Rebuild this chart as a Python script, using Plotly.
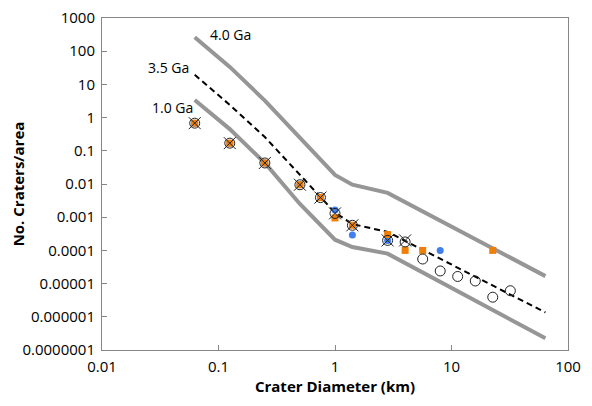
import math
import plotly.graph_objects as go

# Isochron curves (diameter km, cumulative craters/area)
iso_d = [0.0625, 0.125, 0.25, 0.5, 1.0, 1.41, 2.83, 64]
iso_40 = [265, 33.6, 3.25, 0.248, 0.0187, 0.0095, 0.0054, 1.68e-5]
iso_35 = [19.5, 2.4, 0.26, 0.019, 0.00137, 0.00062, 0.00036, 1.35e-6]
iso_10 = [3.4, 0.45, 0.043, 0.0025, 0.00021, 0.000126, 0.00008, 2.25e-7]

# Measured crater counts
open_d = [0.0625, 0.125, 0.25, 0.5, 0.75, 1.0, 1.41, 2.83, 4.0, 5.66, 8.0, 11.3, 16.0, 22.6, 32.0]
open_n = [0.68, 0.17, 0.043, 0.0095, 0.0039, 0.0013, 0.00057, 0.0002, 0.00018,
          5.5e-5, 2.4e-5, 1.64e-5, 1.2e-5, 3.9e-6, 6.1e-6]

x_d = [0.0625, 0.125, 0.25, 0.5, 0.75, 1.0, 1.41, 2.83, 4.0]
x_n = [0.68, 0.17, 0.043, 0.0095, 0.0039, 0.0013, 0.00057, 0.0002, 0.0002]

sq_d = [0.0625, 0.125, 0.25, 0.5, 0.75, 1.0, 1.41, 2.83, 4.0, 5.66, 22.6]
sq_n = [0.68, 0.17, 0.043, 0.0095, 0.0039, 0.00095, 0.00057, 0.0003, 0.0001, 0.0001, 0.0001]

bl_d = [0.0625, 0.125, 0.25, 0.5, 0.75, 1.0, 1.41, 2.83, 8.0]
bl_n = [0.68, 0.17, 0.043, 0.0095, 0.0039, 0.00165, 0.00029, 0.0002, 0.0001]

x_ticks = [0.01, 0.1, 1, 10, 100]
x_labels = ["0.01", "0.1", "1", "10", "100"]
y_ticks = [1000, 100, 10, 1, 0.1, 0.01, 0.001, 0.0001, 0.00001, 0.000001, 0.0000001]
y_labels = ["1000", "100", "10", "1", "0.1", "0.01", "0.001", "0.0001",
            "0.00001", "0.000001", "0.0000001"]

iso_labels = ["4.0 Ga", "3.5 Ga", "1.0 Ga"]

FONT = "Open Sans"
GRAY = "#969696"

fig = go.Figure()
fig.add_trace(go.Scatter(x=iso_d, y=iso_40, mode="lines",
                         line=dict(color=GRAY, width=4), name="4.0 Ga"))
fig.add_trace(go.Scatter(x=iso_d, y=iso_10, mode="lines",
                         line=dict(color=GRAY, width=4), name="1.0 Ga"))
fig.add_trace(go.Scatter(x=iso_d, y=iso_35, mode="lines",
                         line=dict(color="black", width=2, dash="6px,4px"), name="3.5 Ga"))
fig.add_trace(go.Scatter(x=bl_d, y=bl_n, mode="markers",
                         marker=dict(symbol="circle", size=7, color="#3f7fef", line=dict(width=0))))
fig.add_trace(go.Scatter(x=sq_d, y=sq_n, mode="markers",
                         marker=dict(symbol="square", size=7, color="#f07f0a", line=dict(width=0))))
fig.add_trace(go.Scatter(x=open_d, y=open_n, mode="markers",
                         marker=dict(symbol="circle-open", size=10, color="#222222",
                                     line=dict(width=1))))
fig.add_trace(go.Scatter(x=x_d, y=x_n, mode="markers",
                         marker=dict(symbol="x-thin", size=12, color="#222222",
                                     line=dict(width=1, color="#222222"))))

# isochron labels (log axes -> annotation coordinates in log10 units)
lab_font = dict(family=FONT, size=14, color="black")
fig.add_annotation(x=math.log10(iso_d[0]), y=math.log10(iso_40[0]), text=iso_labels[0],
                   showarrow=False, xanchor="left", yanchor="middle", xshift=13, yshift=3,
                   font=lab_font)
fig.add_annotation(x=math.log10(iso_d[0]), y=math.log10(iso_35[0]), text=iso_labels[1],
                   showarrow=False, xanchor="right", yanchor="middle", xshift=-4, yshift=7,
                   font=lab_font)
fig.add_annotation(x=math.log10(iso_d[0]), y=math.log10(iso_10[0]), text=iso_labels[2],
                   showarrow=False, xanchor="right", yanchor="middle", xshift=0, yshift=-8,
                   font=lab_font)

axis_common = dict(showgrid=False, zeroline=False, showline=True, linecolor="#868686",
                   linewidth=1, mirror=True, ticks="inside", ticklen=5, automargin=False,
                   ticklabeloverflow="allow",
                   tickcolor="#868686", tickfont=dict(family=FONT, size=15, color="black"))

fig.update_xaxes(type="log", range=[-2, 2], tickvals=x_ticks, ticktext=x_labels,
                 title=dict(text="<b>Crater Diameter (km)</b>",
                            font=dict(family=FONT, size=15, color="black"), standoff=6),
                 ticklabelstandoff=3,
                 **axis_common)
fig.update_yaxes(type="log", range=[-7, 3], tickvals=y_ticks, ticktext=y_labels,
                 title=dict(text="<b>No. Craters/area</b>",
                            font=dict(family=FONT, size=15, color="black"), standoff=6),
                 ticklabelstandoff=3,
                 **axis_common)

# page body has an 8px default margin; figure sized so the plot area lands
# where the reference has it
fig.update_layout(width=584, height=398, showlegend=False,
                  margin=dict(l=94, r=24, t=10, b=56),
                  plot_bgcolor="white", paper_bgcolor="white")

fig.write_html("out.html")
